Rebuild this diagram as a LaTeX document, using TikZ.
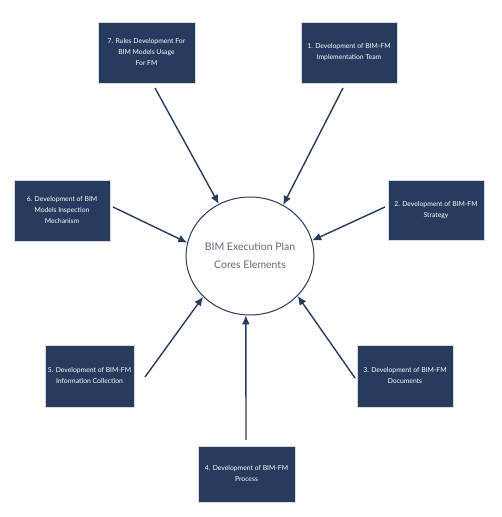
\documentclass[tikz,border=0pt]{standalone}
\usepackage{fontspec}
\setmainfont{Lato}
\usetikzlibrary{arrows.meta,shapes.geometric}
\definecolor{navy}{RGB}{38,59,94}
\definecolor{coretext}{RGB}{95,104,120}
\begin{document}
\begin{tikzpicture}[x=1pt,y=1pt]
		\tikzstyle{task}=[fill=navy,draw=black!15,line width=0.6pt,text=white,align=center,font=\fontsize{6.8}{11}\selectfont,inner sep=0pt]
		\tikzstyle{link}=[navy,line width=1.4pt,-{Latex[length=9pt,width=8pt]}]
		
		\useasboundingbox (0,0) rectangle (501,517);
		
		\node (C) at (250,261) [draw=navy,line width=1pt,ellipse,minimum width=126,minimum height=118,inner sep=0pt,text=coretext,align=center,font=\fontsize{10.5}{18}\selectfont] {BIM Execution Plan\\Cores Elements};
		
		\node (R7) at (146.5,464.5) [task,minimum width=97,minimum height=61] {7. Rules Development For\\BIM Models Usage\\For FM};
		\node (R1) at (349,464.5) [task,minimum width=96,minimum height=61] {1. Development of BIM-FM\\Implementation Team};
		\node (R6) at (62,306.5) [task,minimum width=96,minimum height=61] {6. Development of BIM\\Models Inspection\\Mechanism};
		\node (R2) at (436,307) [task,minimum width=96,minimum height=60] {2. Development of BIM-FM\\Strategy};
		\node (R5) at (89.5,141) [task,minimum width=89,minimum height=62] {5. Development of BIM-FM\\Information Collection};
		\node (R3) at (405,141) [task,minimum width=96,minimum height=62] {3. Development of BIM-FM\\Documents};
		\node (R4) at (246.5,43) [task,minimum width=97,minimum height=56] {4. Development of BIM-FM\\Process};
		
		\coordinate (S7) at (155,429);
		\coordinate (S1) at (343,429);
		\coordinate (S6) at (113,310);
		\coordinate (S2) at (385,310);
		\coordinate (S5) at (145,140);
		\coordinate (S3) at (355,139);
		\coordinate (S4) at (246,77);
		
		\draw[link] (S7)--(C.121);
		\draw[link] (S1)--(C.57);
		\draw[link] (S6)--(C.168);
		\draw[link] (S2)--(C.14);
		\draw[link] (S5)--(C.221);
		\draw[link] (S3)--(C.-40);
		\draw[link] (S4)--(C.266);
		
		\end{tikzpicture}
\end{document}
